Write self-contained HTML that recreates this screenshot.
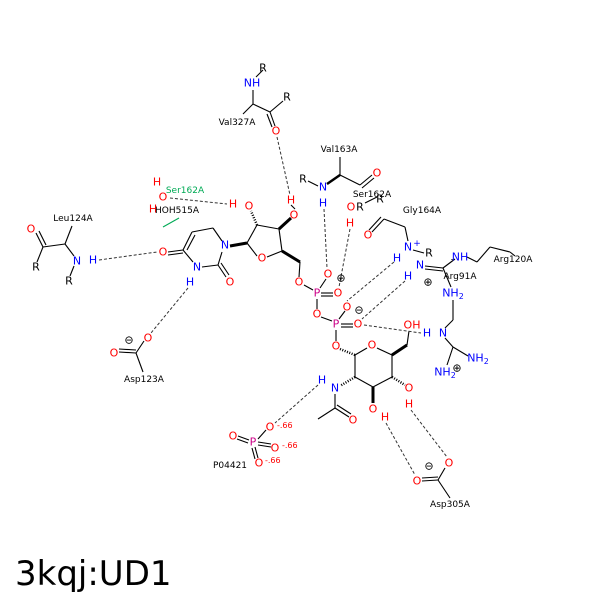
<!DOCTYPE html>
<html><head><meta charset="utf-8"><style>
html,body{margin:0;padding:0;background:#fff}
svg{display:block}
text{font-family:"DejaVu Sans","Liberation Sans",sans-serif}
.a{font-size:11px;text-anchor:middle;dominant-baseline:central}
.l{font-size:9px;fill:#000;text-anchor:middle;dominant-baseline:central}
.O{fill:#f00}.N{fill:#00f}.P{fill:#c08}.K{fill:#000}
</style></head><body>
<svg width="600" height="600" viewBox="0 0 600 600" xmlns="http://www.w3.org/2000/svg">
<rect x="0" y="0" width="600" height="600" fill="#fff"/>
<g stroke="#000" stroke-width="1.1" fill="none">
<!-- Val327A -->
<line x1="263" y1="70" x2="256" y2="77"/><line x1="253" y1="90" x2="253" y2="104"/>
<line x1="253" y1="104" x2="270" y2="112"/><line x1="270" y1="112" x2="283" y2="101"/>
<line x1="270" y1="112" x2="275" y2="126"/><line x1="267" y1="114" x2="272" y2="127"/>
<line x1="253" y1="104" x2="243" y2="114"/>
<!-- Leu124A -->
<line x1="36" y1="233" x2="43" y2="247"/><line x1="39" y1="231" x2="46" y2="245"/>
<line x1="43" y1="247" x2="37" y2="262"/><line x1="43" y1="247" x2="65" y2="244"/>
<line x1="65" y1="244" x2="72" y2="226"/><line x1="65" y1="244" x2="74" y2="256"/>
<line x1="74" y1="266" x2="70" y2="276"/>
<!-- Asp123A -->
<line x1="144" y1="341" x2="136" y2="353"/><line x1="136" y1="353" x2="119" y2="352"/><line x1="136" y1="350" x2="119" y2="349"/>
<line x1="136" y1="353" x2="143" y2="372"/>
<!-- pyrimidine -->
<line x1="218" y1="265" x2="222" y2="252"/><line x1="218" y1="265" x2="202" y2="267"/>
<line x1="218" y1="265" x2="226" y2="277"/><line x1="221" y1="263" x2="229" y2="275"/>
<line x1="193" y1="262" x2="183" y2="250"/><line x1="183" y1="250" x2="168" y2="252"/><line x1="183" y1="253" x2="168" y2="255"/>
<line x1="183" y1="250" x2="192" y2="232"/><line x1="187" y1="250" x2="195" y2="235"/>
<line x1="192" y1="232" x2="213" y2="228"/><line x1="213" y1="228" x2="222" y2="241"/>
<line x1="190" y1="275" x2="197" y2="272" stroke="none"/>
<!-- ribose -->
<line x1="247" y1="243" x2="257" y2="225"/><line x1="257" y1="225" x2="279" y2="229"/>
<line x1="279" y1="229" x2="282" y2="251"/><line x1="282" y1="251" x2="267" y2="257"/><line x1="257" y1="256" x2="247" y2="243"/>
<line x1="282" y1="251" x2="300" y2="262" stroke-width="3"/><line x1="300" y1="262" x2="299" y2="277"/>
<line x1="257" y1="225" x2="251" y2="211" stroke-dasharray="1,1.5" stroke-width="2.5"/>
<line x1="279" y1="229" x2="291" y2="218" stroke-width="3"/>
<line x1="230" y1="246" x2="247" y2="243" stroke-width="3"/>
<line x1="295" y1="209" x2="291" y2="205"/>
<!-- phosphates -->
<line x1="304" y1="285" x2="313" y2="290"/><line x1="320" y1="288" x2="326" y2="279"/><line x1="318" y1="289" x2="324" y2="278" stroke="none"/>
<line x1="321" y1="293" x2="333" y2="293"/><line x1="321" y1="296" x2="333" y2="296"/>
<line x1="317" y1="299" x2="317" y2="309"/><line x1="321" y1="317" x2="332" y2="321"/>
<line x1="339" y1="319" x2="345" y2="311"/><line x1="341" y1="324" x2="353" y2="324"/><line x1="341" y1="327" x2="353" y2="327"/>
<line x1="336" y1="330" x2="336" y2="341"/>
<!-- hexose -->
<line x1="340" y1="349" x2="355" y2="355" stroke-dasharray="1,1.5" stroke-width="2.5"/>
<line x1="355" y1="355" x2="367" y2="348"/><line x1="377" y1="348" x2="392" y2="355"/>
<line x1="392" y1="355" x2="407" y2="345" stroke-width="3"/><line x1="407" y1="345" x2="409" y2="331"/>
<line x1="392" y1="355" x2="392" y2="377"/><line x1="392" y1="377" x2="373" y2="387"/>
<line x1="373" y1="387" x2="355" y2="377"/><line x1="355" y1="377" x2="355" y2="355"/>
<line x1="392" y1="377" x2="405" y2="385" stroke-dasharray="1,1.5" stroke-width="2.5"/>
<line x1="373" y1="387" x2="373" y2="403" stroke-width="3"/>
<line x1="355" y1="377" x2="340" y2="386" stroke-dasharray="1,1.5" stroke-width="2.5"/>
<line x1="335" y1="394" x2="335" y2="408"/><line x1="335" y1="408" x2="318" y2="419"/>
<line x1="335" y1="408" x2="349" y2="417"/><line x1="337" y1="405" x2="351" y2="414"/>
<!-- Val163A -->
<line x1="340" y1="157" x2="340" y2="175"/><line x1="340" y1="175" x2="327" y2="184" stroke-width="2.5"/>
<line x1="308" y1="181" x2="318" y2="186"/><line x1="340" y1="175" x2="360" y2="185"/>
<line x1="360" y1="185" x2="372" y2="175"/><line x1="362" y1="188" x2="374" y2="178"/>
<!-- Ser / Gly -->
<line x1="365" y1="203" x2="377" y2="197"/>
<line x1="384" y1="219" x2="372" y2="232"/><line x1="381" y1="217" x2="369" y2="230"/>
<line x1="384" y1="219" x2="405" y2="227"/><line x1="405" y1="227" x2="408" y2="241"/>
<line x1="413" y1="250" x2="424" y2="253"/>
<!-- Arg91A -->
<line x1="425" y1="266" x2="443" y2="268"/><line x1="425" y1="269" x2="443" y2="271"/>
<line x1="443" y1="268" x2="455" y2="259"/><line x1="443" y1="268" x2="451" y2="287"/>
<line x1="467" y1="257" x2="477" y2="262"/><line x1="477" y1="262" x2="490" y2="247"/><line x1="490" y1="247" x2="510" y2="252"/><line x1="510" y1="252" x2="515" y2="256"/>
<line x1="453" y1="300" x2="453" y2="320"/><line x1="453" y1="320" x2="445" y2="328"/>
<line x1="445" y1="338" x2="453" y2="347"/><line x1="448" y1="338" x2="456" y2="347" stroke="none"/>
<line x1="453" y1="347" x2="468" y2="356"/><line x1="453" y1="347" x2="447" y2="365"/>
<line x1="452" y1="259" x2="452" y2="260"/>
</g>
<!-- hydrogen bonds -->
<g stroke="#333" stroke-width="1" stroke-dasharray="3,2" fill="none">
<line x1="277" y1="137" x2="290" y2="195"/>
<line x1="170" y1="198" x2="227" y2="204"/>
<line x1="99" y1="260" x2="157" y2="252"/>
<line x1="188" y1="288" x2="151" y2="333"/>
<line x1="324" y1="209" x2="327" y2="268"/>
<line x1="350" y1="229" x2="339" y2="287"/>
<line x1="394" y1="262" x2="347" y2="301"/>
<line x1="405" y1="281" x2="362" y2="319"/>
<line x1="364" y1="325" x2="421" y2="333"/>
<line x1="318" y1="385" x2="275" y2="423"/>
<line x1="386" y1="423" x2="415" y2="475"/>
<line x1="411" y1="410" x2="447" y2="457"/>
</g>
<!-- P04 bonds -->
<g stroke="#000" stroke-width="1.1">
<line x1="238" y1="436" x2="249" y2="440"/><line x1="237" y1="439" x2="248" y2="443"/>
<line x1="258" y1="439" x2="266" y2="430"/><line x1="258" y1="445" x2="271" y2="447"/><line x1="258" y1="442" x2="271" y2="444"/>
<line x1="255" y1="447" x2="258" y2="458"/><line x1="252" y1="448" x2="255" y2="459"/>
<line x1="438" y1="480" x2="445" y2="468"/><line x1="438" y1="480" x2="422" y2="481"/><line x1="438" y1="477" x2="422" y2="478"/>
<line x1="438" y1="480" x2="450" y2="498"/>
</g>
<g stroke="#0a5" stroke-width="1.1"><line x1="163" y1="227" x2="179" y2="218"/></g>
<!-- atoms -->
<g class="a">
<text x="263" y="68" class="K">R</text><text x="252" y="83" class="N">NH</text><text x="287" y="97" class="K">R</text><text x="276" y="131" class="O">O</text>
<text x="31" y="229" class="O">O</text><text x="36" y="267" class="K">R</text><text x="77" y="261" class="N">N</text><text x="93" y="260" class="N">H</text><text x="69" y="281" class="K">R</text>
<text x="148" y="338" class="O">O</text><text x="129" y="340" class="K">⊖</text><text x="114" y="353" class="O">O</text>
<text x="157" y="182" class="O">H</text><text x="163" y="197" class="O">O</text><text x="153" y="209" class="O">H</text>
<text x="163" y="252" class="O">O</text><text x="197" y="267" class="N">N</text><text x="190" y="282" class="N">H</text><text x="230" y="282" class="O">O</text><text x="225" y="245" class="N">N</text>
<text x="262" y="258" class="O">O</text><text x="249" y="206" class="O">O</text><text x="233" y="204" class="O">H</text><text x="294" y="215" class="O">O</text><text x="291" y="200" class="O">H</text>
<text x="299" y="282" class="O">O</text><text x="317" y="293" class="P">P</text><text x="328" y="274" class="O">O</text><text x="338" y="293" class="O">O</text><text x="341" y="278" class="K">⊕</text>
<text x="317" y="314" class="O">O</text><text x="336" y="324" class="P">P</text><text x="347" y="307" class="O">O</text><text x="359" y="310" class="K">⊖</text><text x="358" y="324" class="O">O</text><text x="336" y="346" class="O">O</text>
<text x="412" y="325" class="O">OH</text>
<text x="372" y="345" class="O">O</text><text x="335" y="388" class="N">N</text><text x="322" y="380" class="N">H</text><text x="353" y="420" class="O">O</text>
<text x="373" y="409" class="O">O</text><text x="385" y="417" class="O">H</text><text x="409" y="388" class="O">O</text><text x="409" y="404" class="O">H</text>
<text x="303" y="179" class="K">R</text><text x="323" y="187" class="N">N</text><text x="323" y="203" class="N">H</text><text x="377" y="173" class="O">O</text>
<text x="351" y="207" class="O">O</text><text x="360" y="207" class="K">R</text><text x="350" y="223" class="O">H</text><text x="380" y="199" class="K">R</text>
<text x="368" y="235" class="O">O</text><text x="408" y="247" class="N">N</text><text x="417" y="244" class="N" style="font-size:9px">+</text><text x="397" y="258" class="N">H</text><text x="429" y="253" class="K">R</text>
<text x="420" y="265" class="N">N</text><text x="408" y="276" class="N">H</text><text x="460" y="257" class="N">NH</text><text x="428" y="282" class="K">⊕</text>
<text x="453" y="293" class="N">NH<tspan font-size="8" dy="3">2</tspan></text>
<text x="443" y="333" class="N">N</text><text x="427" y="333" class="N">H</text>
<text x="478" y="358" class="N">NH<tspan font-size="8" dy="3">2</tspan></text><text x="445" y="372" class="N">NH<tspan font-size="8" dy="3">2</tspan></text><text x="457" y="368" class="K">⊕</text>
<text x="253" y="442" class="P">P</text><text x="233" y="436" class="O">O</text><text x="270" y="427" class="O">O</text><text x="275" y="448" class="O">O</text><text x="259" y="463" class="O">O</text>
<text x="449" y="463" class="O">O</text><text x="429" y="466" class="K">⊖</text><text x="417" y="481" class="O">O</text>
</g>
<g style="font-size:8px" fill="#f00"><text x="277" y="428">-.66</text><text x="282" y="448">-.66</text><text x="265" y="463">-.66</text></g>
<g class="l">
<text x="237" y="123">Val327A</text><text x="73" y="219">Leu124A</text><text x="144" y="380">Asp123A</text>
<text x="185" y="191" style="fill:#0a5">Ser162A</text><text x="177" y="211">HOH515A</text>
<text x="339" y="150">Val163A</text><text x="372" y="195">Ser162A</text><text x="422" y="211">Gly164A</text>
<text x="513" y="260">Arg120A</text><text x="460" y="277">Arg91A</text><text x="230" y="466">P04421</text><text x="450" y="505">Asp305A</text>
</g>
<text x="15" y="585" style="font-size:34px" fill="#000">3kqj:UD1</text>
</svg>
</body></html>
